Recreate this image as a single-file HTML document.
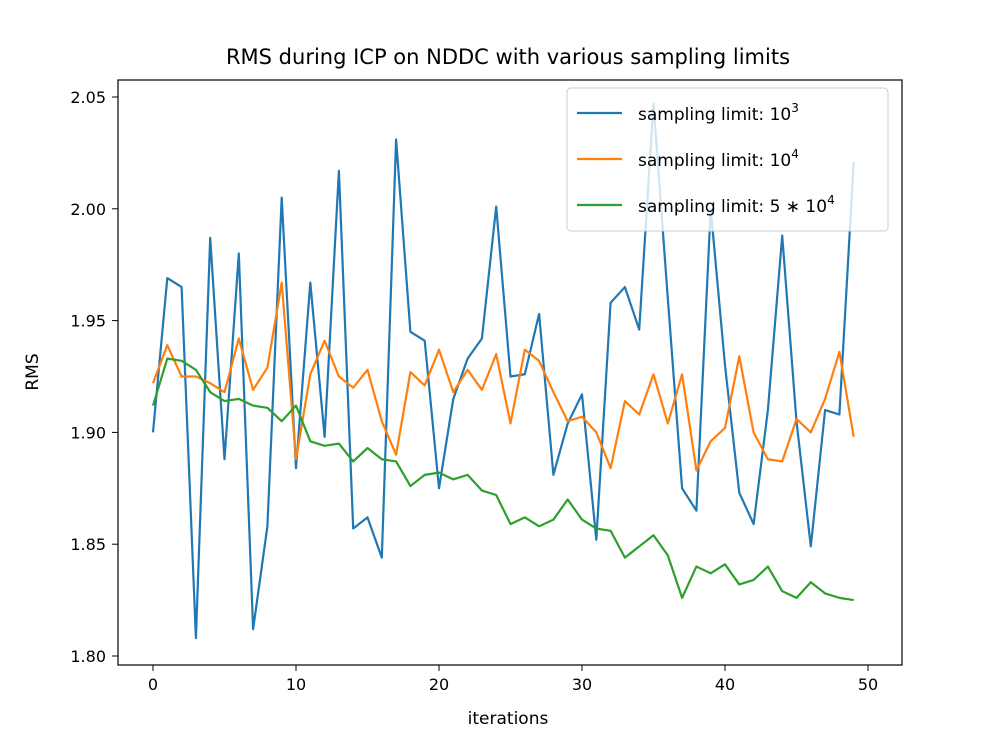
<!DOCTYPE html>
<html><head><meta charset="utf-8"><style>
body{margin:0;background:#fff;}
svg{font-family:"DejaVu Sans","Liberation Sans",sans-serif;}
</style></head><body>
<svg id="chart" width="994" height="740">
<rect width="994" height="740" fill="#fff"/>
<text x="508" y="64" font-size="21" text-anchor="middle">RMS during ICP on NDDC with various sampling limits</text>
<g id="plot"></g>
<rect x="118" y="80" width="784" height="585" fill="none" stroke="#000" stroke-width="1.2"/>
<text x="508" y="724" font-size="17" text-anchor="middle">iterations</text>
<text x="38" y="372" font-size="17" text-anchor="middle" transform="rotate(-90 38 372)">RMS</text>
<g>
<rect x="567" y="88" width="321" height="143" rx="4" fill="#fff" fill-opacity="0.8" stroke="#ccc"/>
<line x1="577" y1="113" x2="622" y2="113" stroke="#1f77b4" stroke-width="2.2"/>
<text x="638" y="120" font-size="17">sampling limit: 10<tspan dy="-8" font-size="12">3</tspan></text>
<line x1="577" y1="159" x2="622" y2="159" stroke="#ff7f0e" stroke-width="2.2"/>
<text x="638" y="166" font-size="17">sampling limit: 10<tspan dy="-8" font-size="12">4</tspan></text>
<line x1="577" y1="205" x2="622" y2="205" stroke="#2ca02c" stroke-width="2.2"/>
<text x="638" y="212" font-size="17">sampling limit: 5 ∗ 10<tspan dy="-8" font-size="12">4</tspan></text>
</g>
</svg>
<script>
const xTicks=[0,10,20,30,40,50];
const yTicks=[1.80,1.85,1.90,1.95,2.00,2.05];
const blue=[1.900,1.969,1.965,1.808,1.987,1.888,1.980,1.812,1.858,2.005,1.884,1.967,1.898,2.017,1.857,1.862,1.844,2.031,1.945,1.941,1.875,1.915,1.933,1.942,2.001,1.925,1.926,1.953,1.881,1.904,1.917,1.852,1.958,1.965,1.946,2.047,1.960,1.875,1.865,2.000,1.930,1.873,1.859,1.910,1.988,1.905,1.849,1.910,1.908,2.021];
const orange=[1.922,1.939,1.925,1.925,1.922,1.918,1.942,1.919,1.929,1.967,1.888,1.926,1.941,1.925,1.920,1.928,1.905,1.890,1.927,1.921,1.937,1.918,1.928,1.919,1.935,1.904,1.937,1.932,1.918,1.905,1.907,1.900,1.884,1.914,1.908,1.926,1.904,1.926,1.883,1.896,1.902,1.934,1.900,1.888,1.887,1.906,1.900,1.915,1.936,1.898];
const green=[1.912,1.933,1.932,1.928,1.918,1.914,1.915,1.912,1.911,1.905,1.912,1.896,1.894,1.895,1.887,1.893,1.888,1.887,1.876,1.881,1.882,1.879,1.881,1.874,1.872,1.859,1.862,1.858,1.861,1.870,1.861,1.857,1.856,1.844,1.849,1.854,1.845,1.826,1.840,1.837,1.841,1.832,1.834,1.840,1.829,1.826,1.833,1.828,1.826,1.825];
const NS="http://www.w3.org/2000/svg";
const X=v=>153+v*14.3;
const Y=v=>656-(v-1.80)/0.05*111.8;
const g=document.getElementById('plot');
function mk(t,a){const e=document.createElementNS(NS,t);for(const k in a)e.setAttribute(k,a[k]);g.appendChild(e);return e;}
xTicks.forEach(t=>{
 const l=mk('line',{x1:X(t),x2:X(t),y1:665,y2:671,stroke:'#000'});
 
 
 const tx=mk('text',{x:X(t),y:690,'font-size':16,'text-anchor':'middle'});tx.textContent=t;
 
 
});
yTicks.forEach(t=>{
 const l=mk('line',{x1:112,x2:118,y1:Y(t),y2:Y(t),stroke:'#000'});
 
 
 const tx=mk('text',{x:106,y:Y(t)+6,'font-size':16,'text-anchor':'end'});tx.textContent=t.toFixed(2);
 
 
});
[[blue,'#1f77b4','series-1e3'],[orange,'#ff7f0e','series-1e4'],[green,'#2ca02c','series-5e4']].forEach(([d,c,n])=>{
 const p=mk('polyline',{points:d.map((v,i)=>X(i)+','+Y(v)).join(' '),fill:'none',stroke:c,'stroke-width':2.2,'stroke-linejoin':'round'});
 
 
});
</script>
</body></html>
